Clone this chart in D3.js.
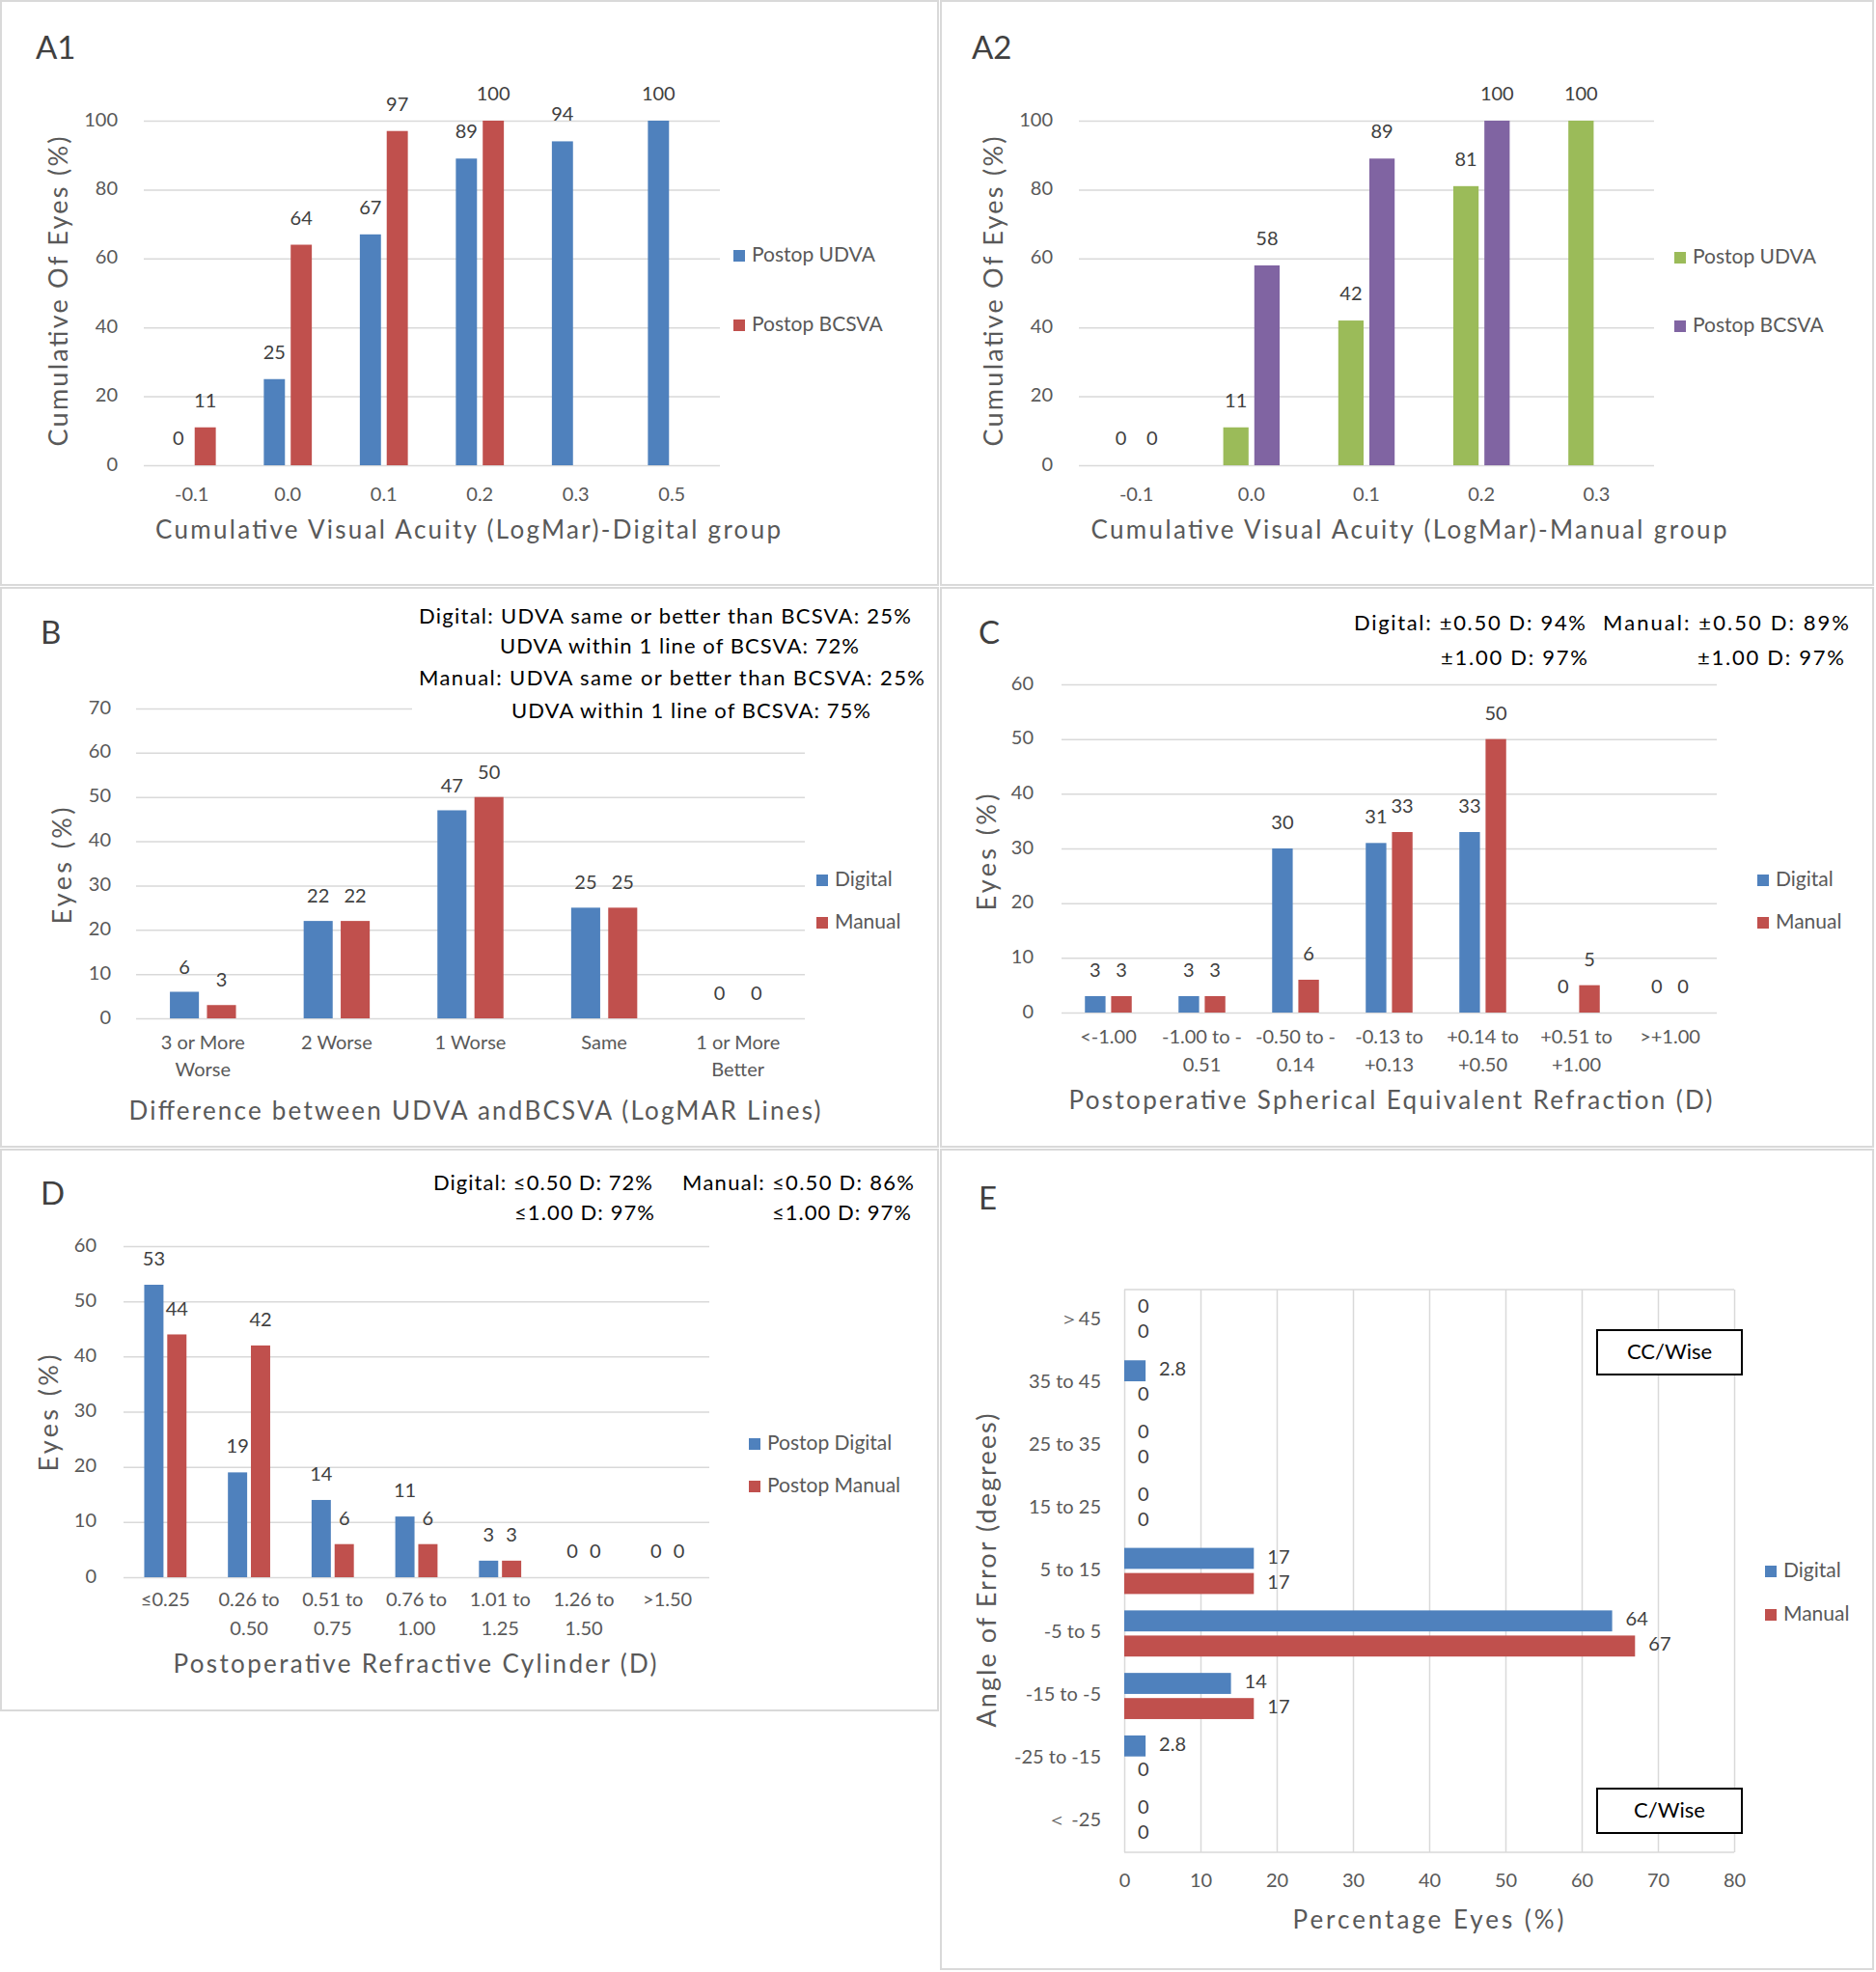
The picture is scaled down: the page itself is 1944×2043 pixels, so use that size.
<!DOCTYPE html>
<html><head><meta charset="utf-8">
<script src="https://cdn.jsdelivr.net/npm/d3@7"></script>
<style>
html,body{margin:0;padding:0;background:#fff;}
svg{display:block;font-family:Lato,"Open Sans",sans-serif;}
</style></head>
<body>
<script>
// ---------- DATA ----------
const a1Categories = ["-0.1","0.0","0.1","0.2","0.3","0.5"];
const a1UDVA  = [0,25,67,89,94,100];
const a1BCSVA = [11,64,97,100,null,null];

const a2Categories = ["-0.1","0.0","0.1","0.2","0.3"];
const a2UDVA  = [0,11,42,81,100];
const a2BCSVA = [0,58,89,100,null];

const bCategories = ["3 or More\nWorse","2 Worse","1 Worse","Same","1 or More\nBetter"];
const bDigital = [6,22,47,25,0];
const bManual  = [3,22,50,25,0];

const cCategories = ["<-1.00","-1.00 to -\n0.51","-0.50 to -\n0.14","-0.13 to\n+0.13","+0.14 to\n+0.50","+0.51 to\n+1.00",">+1.00"];
const cDigital = [3,3,30,31,33,0,0];
const cManual  = [3,3,6,33,50,5,0];

const dCategories = ["≤0.25","0.26 to\n0.50","0.51 to\n0.75","0.76 to\n1.00","1.01 to\n1.25","1.26 to\n1.50",">1.50"];
const dDigital = [53,19,14,11,3,0,0];
const dManual  = [44,42,6,6,3,0,0];

const eCategories = ["＞45","35 to 45","25 to 35","15 to 25","5 to 15","-5 to 5","-15 to -5","-25 to -15","＜ -25"];
const eDigital = [0,2.8,0,0,17,64,14,2.8,0];
const eManual  = [0,0,0,0,17,67,17,0,0];
const eTicks = [0,10,20,30,40,50,60,70,80];

const bNotes = ["Digital: UDVA same or better than BCSVA: 25%","UDVA within 1 line of BCSVA: 72%",
                "Manual: UDVA same or better than BCSVA: 25%","UDVA within 1 line of BCSVA: 75%"];
const cNotes = ["Digital: ±0.50 D: 94%","Manual: ±0.50 D: 89%","±1.00 D: 97%","±1.00 D: 97%"];
const dNotes = ["Digital: ≤0.50 D: 72%","Manual: ≤0.50 D: 86%","≤1.00 D: 97%","≤1.00 D: 97%"];

// ---------- STYLE ----------
const BLUE="#4F81BD", RED="#C0504D", GREEN="#9BBB59", PURPLE="#8064A2";
const GRID="#d9d9d9", TXT="#595959", LBL="#404040";

const svg = d3.select("body").append("svg").attr("width",1944).attr("height",2043);
svg.append("rect").attr("width",1944).attr("height",2043).attr("fill","#fff");

// panel borders
[[1,1,971,605],[975,1,966,605],[1,609,971,579],[975,609,966,579],[1,1191,971,581],[975,1191,966,849]]
 .forEach(r=>svg.append("rect").attr("x",r[0]).attr("y",r[1]).attr("width",r[2]).attr("height",r[3])
   .attr("fill","none").attr("stroke",GRID).attr("stroke-width",2));

function txt(g,x,y,s,o={}){
  const t=g.append("text").attr("x",x).attr("y",y).text(s)
    .attr("font-size",o.size||20).attr("fill",o.fill||TXT)
    .attr("text-anchor",o.anchor||"start").attr("dominant-baseline",o.base||"middle");
  if(o.len) t.attr("textLength",o.len).attr("lengthAdjust","spacing");
  if(o.rot) t.attr("transform",`rotate(-90,${x},${y})`);
  return t;
}
function legend(g,x,y,color,label){
  g.append("rect").attr("x",x-6).attr("y",y-6).attr("width",12).attr("height",12).attr("fill",color);
  txt(g,x+13,y+1,label,{size:21});
}

function columns(o){
  const g=svg.append("g");
  const idx=o.cats.map((d,i)=>i);
  const x=d3.scaleBand().domain(idx).range([o.x0,o.x1]);
  const y=d3.scaleLinear().domain([0,o.max]).range([o.yBase,o.yTop]);
  const ax=d3.axisLeft(y).tickValues(d3.range(0,o.max+0.001,o.step))
     .tickSize(-(o.x1-o.x0)).tickPadding(o.x0-o.tickRight);
  const ag=g.append("g").attr("transform",`translate(${o.x0},0)`).call(ax);
  ag.select(".domain").remove();
  ag.selectAll("line").attr("stroke",GRID).attr("stroke-width",1.5);
  ag.selectAll("text").attr("fill",TXT).attr("font-size",20).attr("font-family","Lato").attr("dy",null).attr("dominant-baseline","middle");
  if(o.cover) g.append("rect").attr("x",o.cover[0]).attr("y",o.cover[1]).attr("width",o.cover[2]).attr("height",o.cover[3]).attr("fill","#fff");

  const bx=d3.axisBottom(x).tickSize(0).tickPadding(0);
  const bg=g.append("g").attr("transform",`translate(0,${o.catY+3})`).call(bx);
  bg.select(".domain").remove();
  bg.selectAll("text").each(function(i){
    const t=d3.select(this).text(null).attr("y",0).attr("dy",null)
      .attr("fill",TXT).attr("font-size",20).attr("font-family","Lato").attr("dominant-baseline","middle");
    o.cats[i].split("\n").forEach((l,k)=>t.append("tspan").attr("x",0).attr("y",k*o.catLineH).text(l));
  });

  const bw=x.bandwidth()*o.barFrac, gap=x.bandwidth()*o.gapFrac;
  o.series.forEach((s,si)=>{
    const off= si===0 ? -gap/2-bw : gap/2;
    const data=s.vals.map((v,i)=>({v,i})).filter(d=>d.v!==null);
    g.append("g").selectAll("rect").data(data).join("rect")
      .attr("x",d=>x(d.i)+x.bandwidth()/2+off).attr("width",bw)
      .attr("y",d=>y(d.v)).attr("height",d=>y(0)-y(d.v)).attr("fill",s.color);
    g.append("g").selectAll("text").data(data).join("text")
      .attr("x",d=>x(d.i)+x.bandwidth()/2+off+bw/2).attr("y",d=>y(d.v)-o.labelOff)
      .attr("text-anchor","middle").attr("dominant-baseline","middle")
      .attr("font-size",20).attr("fill",LBL).text(d=>d.v);
    legend(g,o.legX,o.legY[si],s.color,s.name);
  });
  return g;
}

// ---------- A1 ----------
const gA1=columns({cats:a1Categories,x0:149,x1:746,yBase:482,yTop:125,max:100,step:20,tickRight:122,
  catY:511,catLineH:28,barFrac:0.22,gapFrac:0.06,labelOff:26,legX:766,legY:[265,337],
  series:[{vals:a1UDVA,color:BLUE,name:"Postop UDVA"},{vals:a1BCSVA,color:RED,name:"Postop BCSVA"}]});
txt(gA1,37,53,"A1",{size:33,fill:LBL});
txt(gA1,485,551,"Cumulative  Visual  Acuity (LogMar)-Digital  group",{size:26,anchor:"middle",len:648});
txt(gA1,63,302,"Cumulative  Of Eyes (%)",{size:27,anchor:"middle",len:321,rot:true});

// ---------- A2 ----------
const gA2=columns({cats:a2Categories,x0:1118,x1:1714,yBase:482,yTop:125,max:100,step:20,tickRight:1091,
  catY:511,catLineH:28,barFrac:0.22,gapFrac:0.05,labelOff:26,legX:1741,legY:[267,338],
  series:[{vals:a2UDVA,color:GREEN,name:"Postop UDVA"},{vals:a2BCSVA,color:PURPLE,name:"Postop BCSVA"}]});
txt(gA2,1007,53,"A2",{size:33,fill:LBL});
txt(gA2,1460,551,"Cumulative  Visual  Acuity (LogMar)-Manual  group",{size:26,anchor:"middle",len:659});
txt(gA2,1032,302,"Cumulative  Of Eyes (%)",{size:27,anchor:"middle",len:321,rot:true});

// ---------- B ----------
const gB=columns({cats:bCategories,x0:141,x1:834,yBase:1055,yTop:734,max:70,step:10,tickRight:115,
  catY:1079,catLineH:28,barFrac:0.217,gapFrac:0.06,labelOff:24,legX:852,legY:[912,956],
  cover:[427,612,540,140],
  series:[{vals:bDigital,color:BLUE,name:"Digital"},{vals:bManual,color:RED,name:"Manual"}]});
txt(gB,42,659,"B",{size:33,fill:LBL});
[[434,510,640],[518,372,671],[434,524,704],[530,372,738]].forEach((p,i)=>
  txt(gB,p[0],p[2],bNotes[i],{size:22,fill:"#000",len:p[1]}));
txt(gB,492,1153,"Difference  between UDVA  andBCSVA  (LogMAR  Lines)",{size:26,anchor:"middle",len:717});
txt(gB,67,897,"Eyes (%)",{size:27,anchor:"middle",len:121,rot:true});

// ---------- C ----------
const gC=columns({cats:cCategories,x0:1100,x1:1779,yBase:1049,yTop:709,max:60,step:10,tickRight:1071,
  catY:1073,catLineH:29,barFrac:0.22,gapFrac:0.06,labelOff:25,legX:1827,legY:[912,956],
  series:[{vals:cDigital,color:BLUE,name:"Digital"},{vals:cManual,color:RED,name:"Manual"}]});
txt(gC,1014,659,"C",{size:33,fill:LBL});
[[1403,240,647],[1661,255,647],[1493,152,683],[1759,152,683]].forEach((p,i)=>
  txt(gC,p[0],p[2],cNotes[i],{size:22,fill:"#000",len:p[1]}));
txt(gC,1441,1142,"Postoperative  Spherical  Equivalent  Refraction  (D)",{size:26,anchor:"middle",len:667});
txt(gC,1025,883,"Eyes (%)",{size:27,anchor:"middle",len:121,rot:true});

// ---------- D ----------
const gD=columns({cats:dCategories,x0:128,x1:735,yBase:1634,yTop:1291,max:60,step:10,tickRight:100,
  catY:1656,catLineH:30,barFrac:0.23,gapFrac:0.045,labelOff:25,legX:782,legY:[1496,1540],
  series:[{vals:dDigital,color:BLUE,name:"Postop Digital"},{vals:dManual,color:RED,name:"Postop Manual"}]});
txt(gD,42,1240,"D",{size:33,fill:LBL});
[[449,227,1227],[707,240,1227],[533,145,1258],[800,144,1258]].forEach((p,i)=>
  txt(gD,p[0],p[2],dNotes[i],{size:22,fill:"#000",len:p[1]}));
txt(gD,430,1726,"Postoperative  Refractive  Cylinder  (D)",{size:26,anchor:"middle",len:501});
txt(gD,53,1464,"Eyes (%)",{size:27,anchor:"middle",len:121,rot:true});

// ---------- E ----------
(function(){
  const g=svg.append("g");
  const x=d3.scaleLinear().domain([0,80]).range([1165,1797]);
  const y=d3.scaleBand().domain(eCategories).range([1336,1919]);
  const xa=d3.axisBottom(x).tickValues(eTicks).tickSize(-(1919-1336)).tickPadding(31);
  const xg=g.append("g").attr("transform","translate(0,1919)").call(xa);
  xg.select(".domain").remove();
  xg.selectAll("line").attr("stroke",GRID).attr("stroke-width",1.5);
  xg.selectAll("text").attr("fill",TXT).attr("font-size",20).attr("font-family","Lato").attr("dy",null).attr("dominant-baseline","middle");
  g.append("line").attr("x1",1165).attr("x2",1797).attr("y1",1336).attr("y2",1336).attr("stroke",GRID).attr("stroke-width",1.5);
  g.append("line").attr("x1",1165).attr("x2",1797).attr("y1",1919).attr("y2",1919).attr("stroke",GRID).attr("stroke-width",1.5);
  const ya=d3.axisLeft(y).tickSize(0).tickPadding(1165-1141);
  const yg=g.append("g").attr("transform","translate(1165,0)").call(ya);
  yg.select(".domain").remove();
  yg.selectAll("text").attr("fill",TXT).attr("font-size",20).attr("font-family","Lato").attr("dy",null).attr("dominant-baseline","middle");

  const bh=y.bandwidth()*0.336, gap=y.bandwidth()*0.066;
  [{vals:eDigital,color:BLUE,name:"Digital",off:-gap/2-bh},{vals:eManual,color:RED,name:"Manual",off:gap/2}]
  .forEach((s,si)=>{
    const data=s.vals.map((v,i)=>({v,c:eCategories[i]}));
    g.append("g").selectAll("rect").data(data).join("rect")
      .attr("x",x(0)).attr("width",d=>x(d.v)-x(0))
      .attr("y",d=>y(d.c)+y.bandwidth()/2+s.off).attr("height",bh).attr("fill",s.color);
    g.append("g").selectAll("text").data(data).join("text")
      .attr("x",d=>x(d.v)+14).attr("y",d=>y(d.c)+y.bandwidth()/2+s.off+bh/2)
      .attr("dominant-baseline","middle").attr("font-size",20).attr("fill",LBL).text(d=>d.v);
    legend(g,1835,[1628,1673][si],s.color,s.name);
  });
  [["CC/Wise",1378],["C/Wise",1853]].forEach(b=>{
    g.append("rect").attr("x",1655).attr("y",b[1]).attr("width",150).attr("height",46)
      .attr("fill","#fff").attr("stroke","#000").attr("stroke-width",2);
    txt(g,1730,b[1]+24,b[0],{size:22,fill:"#000",anchor:"middle"});
  });
  txt(g,1014,1245,"E",{size:33,fill:LBL});
  txt(g,1480,1991,"Percentage  Eyes  (%)",{size:26,anchor:"middle",len:281});
  txt(g,1025,1627,"Angle  of  Error  (degrees)",{size:27,anchor:"middle",len:325,rot:true});
})();
</script>
</body></html>
